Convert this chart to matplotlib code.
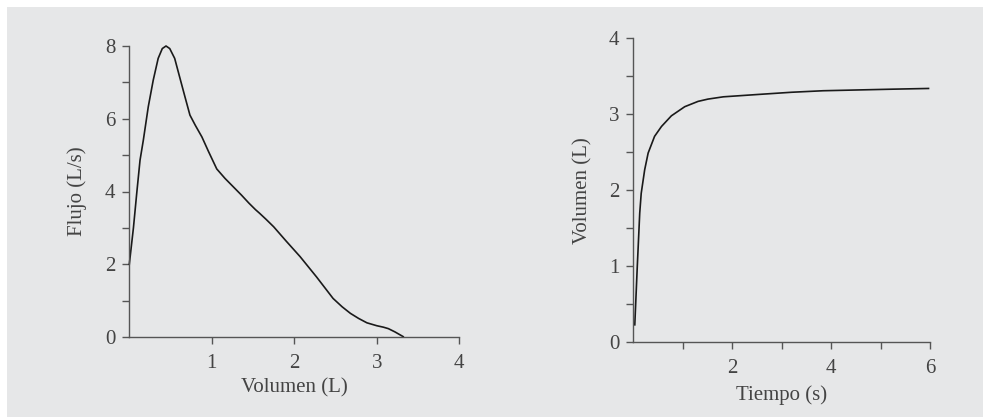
import matplotlib
matplotlib.use("Agg")
import matplotlib.pyplot as plt
from matplotlib.ticker import FixedLocator

# Flow-volume curve
vol_fv = [0.0, 0.05, 0.09, 0.13, 0.17, 0.23, 0.29, 0.35, 0.40, 0.445, 0.49, 0.55,
          0.61, 0.675, 0.735, 0.80, 0.88, 0.96, 1.06, 1.16, 1.26, 1.36, 1.45, 1.53,
          1.58, 1.66, 1.75, 1.90, 2.07, 2.27, 2.47, 2.58, 2.68, 2.78, 2.88, 3.00,
          3.08, 3.14, 3.22, 3.32]
flow_fv = [2.0, 3.0, 3.95, 4.86, 5.41, 6.33, 7.06, 7.66, 7.93, 8.0, 7.93, 7.66,
           7.15, 6.60, 6.10, 5.82, 5.50, 5.10, 4.62, 4.36, 4.13, 3.90, 3.68, 3.50,
           3.40, 3.23, 3.03, 2.64, 2.21, 1.65, 1.06, 0.83, 0.65, 0.51, 0.39, 0.31,
           0.27, 0.23, 0.14, 0.01]

# Volume-time curve
t_vt = [0.03, 0.08, 0.13, 0.16, 0.23, 0.30, 0.43, 0.57, 0.77, 1.04, 1.31,
        1.51, 1.82, 2.50, 3.20, 3.84, 4.52, 5.20, 5.97]
v_vt = [0.23, 0.99, 1.70, 1.96, 2.27, 2.49, 2.71, 2.84, 2.98, 3.10, 3.17,
        3.20, 3.23, 3.26, 3.29, 3.31, 3.32, 3.33, 3.34]

left_xticks = [1, 2, 3, 4]
left_yticks = [0, 2, 4, 6, 8]
right_xticks = [2, 4, 6]
right_yticks = [0, 1, 2, 3, 4]

plt.rcParams['font.family'] = ['Liberation Serif', 'DejaVu Serif']
txt = '#444444'
axc = '#555555'
bg = '#e6e7e8'

fig = plt.figure(figsize=(9.83, 4.17), dpi=100)
fig.patch.set_facecolor('white')
fig.patches.append(plt.Rectangle((7/983, 0), 1, 1 - 7/417, transform=fig.transFigure,
                                 facecolor=bg, edgecolor='none', zorder=-10))

def style(ax):
    ax.set_facecolor('none')
    for s in ['top', 'right']:
        ax.spines[s].set_visible(False)
    for s in ['left', 'bottom']:
        ax.spines[s].set_color(axc)
        ax.spines[s].set_linewidth(1.0)
    ax.tick_params(which='both', direction='out', length=5, width=1.0, color=axc,
                   labelcolor=txt, labelsize=15)
    ax.tick_params(axis='x', pad=7)
    ax.tick_params(axis='y', pad=5)

ax1 = fig.add_axes([129.3/983, (417-337)/417, 330/983, 291/417])
style(ax1)
ax1.plot(vol_fv, flow_fv, color='#1a1a1a', lw=1.2, clip_on=False)
ax1.set_xlim(0, 4)
ax1.set_ylim(0, 8)
ax1.xaxis.set_major_locator(FixedLocator(left_xticks))
ax1.yaxis.set_major_locator(FixedLocator(left_yticks))
ax1.yaxis.set_minor_locator(FixedLocator([1, 3, 5, 7]))
ax1.set_xlabel('Volumen (L)', fontsize=15, color=txt, labelpad=4)
ax1.set_ylabel('Flujo (L/s)', fontsize=15, color=txt, labelpad=13)

ax2 = fig.add_axes([633.3/983, (417-342.3)/417, 296.7/983, 304/417])
style(ax2)
ax2.plot(t_vt, v_vt, color='#1a1a1a', lw=1.2, clip_on=False)
ax2.set_xlim(0, 6)
ax2.set_ylim(0, 4)
ax2.xaxis.set_major_locator(FixedLocator(right_xticks))
ax2.xaxis.set_minor_locator(FixedLocator([1, 3, 5]))
ax2.yaxis.set_major_locator(FixedLocator(right_yticks))
ax2.yaxis.set_minor_locator(FixedLocator([0.5, 1.5, 2.5, 3.5]))
ax2.set_xlabel('Tiempo (s)', fontsize=15, color=txt, labelpad=5)
ax2.set_ylabel('Volumen (L)', fontsize=15, color=txt, labelpad=12)

fig.savefig('out.png', dpi=100, facecolor='white')
